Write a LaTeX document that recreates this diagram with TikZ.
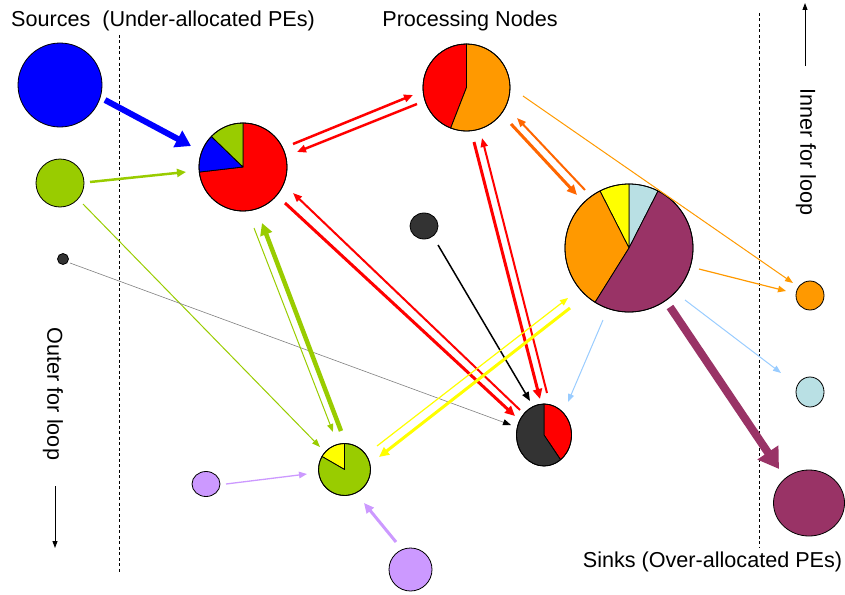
\documentclass[tikz,border=0pt]{standalone}
\usepackage{fontspec}
\setmainfont{Liberation Sans}
\usetikzlibrary{arrows.meta,shapes.geometric}

\definecolor{cBlue}{RGB}{0,0,255}
\definecolor{cGreen}{RGB}{153,204,0}
\definecolor{cRed}{RGB}{255,0,0}
\definecolor{cOrange}{RGB}{255,153,0}
\definecolor{cDeepOrange}{RGB}{255,102,0}
\definecolor{cPlum}{RGB}{153,51,102}
\definecolor{cPale}{RGB}{185,224,228}
\definecolor{cSky}{RGB}{153,204,255}
\definecolor{cYellow}{RGB}{255,255,0}
\definecolor{cDark}{RGB}{51,51,51}
\definecolor{cLilac}{RGB}{204,153,255}

% one slice of a pie: center, x radius, y radius, start angle, end angle, colour
\newcommand\pieslice[6]{%
  \filldraw[slice, fill=#6] #1 -- ++(#4:#2 and #3)
    arc[start angle=#4, end angle=#5, x radius=#2, y radius=#3] -- cycle;}

\tikzset{
  pe/.style={ellipse, draw=black, line width=0.8pt, inner sep=0pt},
  slice/.style={draw=black, line width=0.8pt, line join=round},
  lbl/.style={font=\fontsize{21.6}{25}\selectfont, inner sep=0pt},
  divider/.style={line width=0.8pt, dash pattern=on 3pt off 2.5pt},
  thinarrow/.style={line width=1pt, -{Triangle[length=8pt,width=6pt]}},
  midarrow/.style={line width=2pt, -{Triangle[length=9pt,width=7pt]}},
  boldarrow/.style={line width=3pt, -{Triangle[length=10pt,width=9pt]}},
}

\begin{document}
\begin{tikzpicture}[x=1pt,y=-1pt]
\useasboundingbox (0,0) rectangle (845,594);

% ---- section dividers
\draw[divider] (119,35) -- (119,572);
\draw[divider] (759,13) -- (759,547);

% ---- headings
\node[lbl] (tSrc) at (163,21) {Sources\ \ (Under-allocated PEs)};
\node[lbl] (tProc) at (470,21) {Processing Nodes};
\node[lbl] (tSink) at (712.5,562) {Sinks (Over-allocated PEs)};
\node[lbl, rotate=-90] (tOuter) at (53,394) {Outer for loop};
\node[lbl, rotate=-90] (tInner) at (806,152) {Inner for loop};

% loop direction arrows
\coordinate (o1) at (55,486); \coordinate (o2) at (55,548);
\coordinate (i1) at (805,66); \coordinate (i2) at (805,3);
\draw[line width=0.9pt, -{Triangle[length=7pt,width=5pt]}] (o1) -- (o2);
\draw[line width=0.9pt, -{Triangle[length=7pt,width=5pt]}] (i1) -- (i2);

% ---- sources
\node[pe, fill=cBlue, minimum width=84pt, minimum height=84pt] (sBlue) at (60,85) {};
\node[pe, fill=cGreen, minimum width=48pt, minimum height=48pt] (sGreen) at (60,183) {};
\node[pe, fill=cDark, minimum width=11pt, minimum height=11pt] (sDot) at (63,259) {};
\node[pe, fill=cLilac, minimum width=28pt, minimum height=25pt] (sLilacS) at (206,484) {};
\node[pe, fill=cLilac, minimum width=43pt, minimum height=43pt] (sLilacB) at (410.5,569.5) {};
\node[pe, fill=cDark, minimum width=28pt, minimum height=26pt] (sDark) at (424,226) {};

% ---- processing nodes (pies)
\pieslice{(243,167)}{44pt}{44pt}{-173.4}{90}{cRed}
\pieslice{(243,167)}{44pt}{44pt}{136}{186.6}{cBlue}
\pieslice{(243,167)}{44pt}{44pt}{90}{136}{cGreen}
\node[pe, minimum width=88pt, minimum height=88pt] (pA) at (243,167) {};

\pieslice{(466.5,87.5)}{43.5pt}{43.5pt}{90}{248.7}{cRed}
\pieslice{(466.5,87.5)}{43.5pt}{43.5pt}{-111.3}{90}{cOrange}
\node[pe, minimum width=87pt, minimum height=87pt] (pB) at (466.5,87.5) {};

\pieslice{(629,248)}{64pt}{64pt}{63}{90}{cPale}
\pieslice{(629,248)}{64pt}{64pt}{90}{117}{cYellow}
\pieslice{(629,248)}{64pt}{64pt}{117}{238}{cOrange}
\pieslice{(629,248)}{64pt}{64pt}{-122}{63}{cPlum}
\node[pe, minimum width=128pt, minimum height=128pt] (pC) at (629,248) {};

\pieslice{(544,435)}{27.5pt}{31pt}{-53}{90}{cRed}
\pieslice{(544,435)}{27.5pt}{31pt}{90}{307}{cDark}
\node[pe, minimum width=55pt, minimum height=62pt] (pD) at (544,435) {};

\pieslice{(344.5,469.5)}{26pt}{26pt}{90}{150}{cYellow}
\pieslice{(344.5,469.5)}{26pt}{26pt}{150}{450}{cGreen}
\node[pe, minimum width=52pt, minimum height=52pt] (pE) at (344.5,469.5) {};

% ---- sinks
\node[pe, fill=cOrange, minimum width=28pt, minimum height=29pt] (kOrange) at (810,295.5) {};
\node[pe, fill=cPale, minimum width=28pt, minimum height=30pt] (kPale) at (810,392) {};
\node[pe, fill=cPlum, minimum width=71pt, minimum height=66pt] (kPlum) at (809,503) {};

% ---- connector end points
\coordinate (sBlue-o) at (105,100);   \coordinate (pA-iBlue) at (191,146);
\coordinate (sGreen-o) at (90,182);   \coordinate (pA-iGreen) at (186,172);
\coordinate (sGreen-o2) at (83,204);  \coordinate (pE-iGreen) at (320,447);
\coordinate (sDot-o) at (70,263);     \coordinate (pD-iDot) at (511,425);
\coordinate (sDark-o) at (438,245);   \coordinate (pD-iDark) at (530,401);
\coordinate (sLilacS-o) at (226,484); \coordinate (pE-iLilacS) at (307,474);
\coordinate (sLilacB-o) at (396,542); \coordinate (pE-iLilacB) at (364,503);

\coordinate (pA-oB) at (293,144);  \coordinate (pB-iA) at (413,95);
\coordinate (pB-oA) at (417,104);  \coordinate (pA-iB) at (297,152);
\coordinate (pA-oD) at (285,203);  \coordinate (pD-iA) at (515,416);
\coordinate (pD-oA) at (520,410);  \coordinate (pA-iD) at (293,193);
\coordinate (pB-oD) at (474,142);  \coordinate (pD-iB) at (540,399);
\coordinate (pD-oB) at (547,393);  \coordinate (pB-iD) at (482,138);
\coordinate (pB-oC) at (511,124);  \coordinate (pC-iB) at (577,195);
\coordinate (pC-oB) at (585,190);  \coordinate (pB-iC) at (517,118);
\coordinate (pB-oK) at (523,96);   \coordinate (kOrange-iB) at (793,283);
\coordinate (pC-oK) at (699,269);  \coordinate (kOrange-iC) at (786,291);
\coordinate (pC-oP) at (685,300);  \coordinate (kPale-iC) at (781,373);
\coordinate (pC-oD) at (603,320);  \coordinate (pD-iC) at (568,402);
\coordinate (pC-oM) at (670,307);  \coordinate (kPlum-iC) at (779,469);
\coordinate (pA-oE) at (254,228);  \coordinate (pE-iA) at (333,432);
\coordinate (pE-oA) at (341,431);  \coordinate (pA-iE) at (262,223);
\coordinate (pE-oC) at (377,446);  \coordinate (pC-iE) at (568,298);
\coordinate (pC-oE) at (570,308);  \coordinate (pE-iC) at (379,457);

% ---- connectors
\draw[cBlue, line width=6pt, -{Triangle[length=15pt,width=18pt]}] (sBlue-o) -- (pA-iBlue);
\draw[cGreen, line width=2.5pt, -{Triangle[length=9pt,width=8pt]}] (sGreen-o) -- (pA-iGreen);
\draw[cGreen, thinarrow] (sGreen-o2) -- (pE-iGreen);
\draw[gray, line width=0.6pt, -{Triangle[color=black,length=8pt,width=6pt]}] (sDot-o) -- (pD-iDot);
\draw[black, line width=1.5pt, -{Triangle[length=9pt,width=7pt]}] (sDark-o) -- (pD-iDark);
\draw[cLilac, line width=1.3pt, -{Triangle[length=8pt,width=6.5pt]}] (sLilacS-o) -- (pE-iLilacS);
\draw[cLilac, boldarrow] (sLilacB-o) -- (pE-iLilacB);

\draw[cRed, line width=2.5pt, -{Triangle[length=9pt,width=7.5pt]}] (pA-oB) -- (pB-iA);
\draw[cRed, line width=2.5pt, -{Triangle[length=9pt,width=7.5pt]}] (pB-oA) -- (pA-iB);
\draw[cRed, boldarrow] (pA-oD) -- (pD-iA);
\draw[cRed, midarrow] (pD-oA) -- (pA-iD);
\draw[cRed, boldarrow] (pB-oD) -- (pD-iB);
\draw[cRed, midarrow] (pD-oB) -- (pB-iD);
\draw[cDeepOrange, boldarrow] (pB-oC) -- (pC-iB);
\draw[cDeepOrange, midarrow] (pC-oB) -- (pB-iC);
\draw[cOrange, thinarrow] (pB-oK) -- (kOrange-iB);
\draw[cOrange, line width=1.2pt, -{Triangle[length=8pt,width=6.5pt]}] (pC-oK) -- (kOrange-iC);
\draw[cSky, thinarrow] (pC-oP) -- (kPale-iC);
\draw[cSky, thinarrow] (pC-oD) -- (pD-iC);
\draw[cPlum, line width=8pt, -{Triangle[length=20pt,width=24pt]}] (pC-oM) -- (kPlum-iC);
\draw[cGreen, thinarrow] (pA-oE) -- (pE-iA);
\draw[cGreen, line width=4.5pt, -{Triangle[length=12pt,width=12pt]}] (pE-oA) -- (pA-iE);
\draw[cYellow, line width=1.2pt, -{Triangle[length=8pt,width=6.5pt]}] (pE-oC) -- (pC-iE);
\draw[cYellow, boldarrow] (pC-oE) -- (pE-iC);
\end{tikzpicture}
\end{document}
